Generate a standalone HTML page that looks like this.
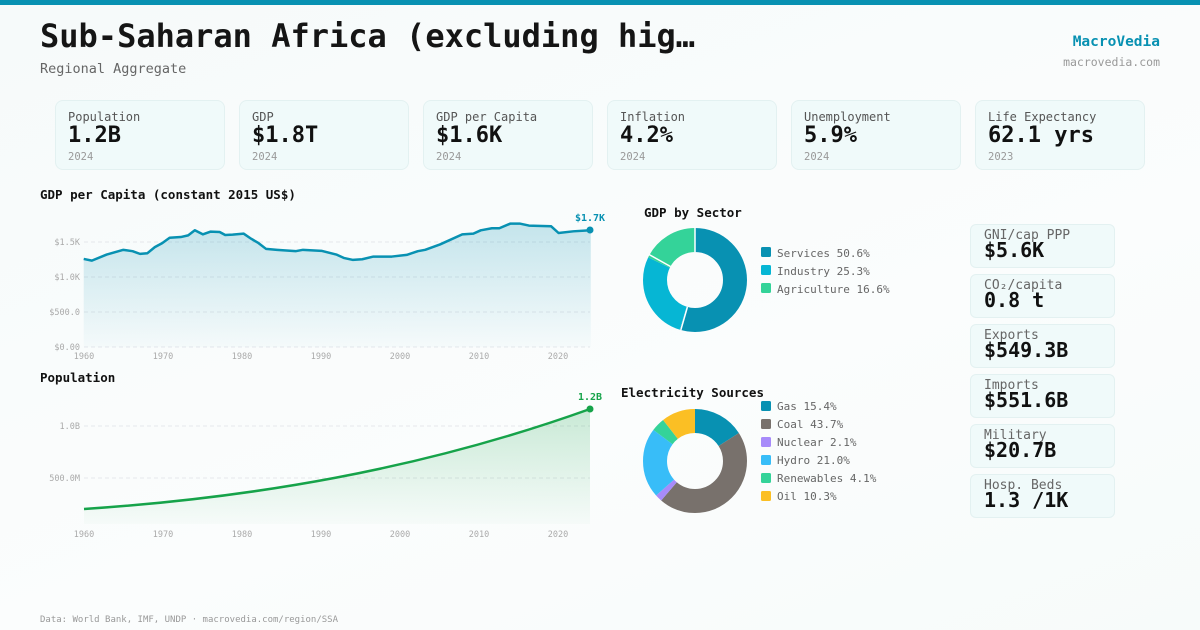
<!DOCTYPE html>
<html><head><meta charset="utf-8"><style>
*{margin:0;padding:0;box-sizing:border-box}
body{width:1200px;height:630px;overflow:hidden;background:linear-gradient(160deg,#f6fafa 0%,#fbfdfd 60%,#f7fbfa 100%);font-family:"DejaVu Sans Mono","Liberation Mono",monospace;position:relative;color:#111}
.top{position:absolute;left:0;top:0;width:1200px;height:5px;background:#0891b2}
.t{position:absolute;white-space:nowrap}
.card{position:absolute;top:100px;width:170px;height:70px;background:#f0fafa;border:1px solid #e3f1f1;border-radius:8px}
.card .l{position:absolute;left:12px;top:9px;font-size:12px;color:#555}
.card .v{position:absolute;left:12px;top:22px;font-size:22px;font-weight:bold;color:#111}
.card .y{position:absolute;left:12px;top:50px;font-size:10.5px;color:#999}
.sc{position:absolute;left:970px;width:145px;height:44px;background:#f0fafa;border:1px solid #e3f1f1;border-radius:6px}
.sc .l{position:absolute;left:13px;top:3px;font-size:13px;color:#666}
.sc .v{position:absolute;left:13px;top:13px;font-size:20px;font-weight:bold;color:#111}
svg text{font-family:"DejaVu Sans Mono","Liberation Mono",monospace}
</style></head><body>
<div class="top"></div>
<div class="t" style="left:40px;top:17px;font-size:32px;font-weight:bold;color:#151515">Sub-Saharan Africa (excluding hig…</div>
<div class="t" style="left:40px;top:61px;font-size:13.5px;color:#666">Regional Aggregate</div>
<div class="t" style="right:40px;top:34px;font-size:14.5px;font-weight:bold;color:#0891b2">MacroVedia</div>
<div class="t" style="right:40px;top:55px;font-size:11.5px;color:#999">macrovedia.com</div>

<div class="card" style="left:55px"><div class="l">Population</div><div class="v">1.2B</div><div class="y">2024</div></div>
<div class="card" style="left:239px"><div class="l">GDP</div><div class="v">$1.8T</div><div class="y">2024</div></div>
<div class="card" style="left:423px"><div class="l">GDP per Capita</div><div class="v">$1.6K</div><div class="y">2024</div></div>
<div class="card" style="left:607px"><div class="l">Inflation</div><div class="v">4.2%</div><div class="y">2024</div></div>
<div class="card" style="left:791px"><div class="l">Unemployment</div><div class="v">5.9%</div><div class="y">2024</div></div>
<div class="card" style="left:975px"><div class="l">Life Expectancy</div><div class="v">62.1 yrs</div><div class="y">2023</div></div>

<div class="sc" style="top:224px"><div class="l">GNI/cap PPP</div><div class="v">$5.6K</div></div>
<div class="sc" style="top:274px"><div class="l">CO₂/capita</div><div class="v">0.8 t</div></div>
<div class="sc" style="top:324px"><div class="l">Exports</div><div class="v">$549.3B</div></div>
<div class="sc" style="top:374px"><div class="l">Imports</div><div class="v">$551.6B</div></div>
<div class="sc" style="top:424px"><div class="l">Military</div><div class="v">$20.7B</div></div>
<div class="sc" style="top:474px"><div class="l">Hosp. Beds</div><div class="v">1.3 /1K</div></div>

<svg width="1200" height="630" style="position:absolute;left:0;top:0">
<defs>
<linearGradient id="g1" x1="0" y1="0" x2="0" y2="1"><stop offset="0" stop-color="#0891b2" stop-opacity="0.22"/><stop offset="1" stop-color="#0891b2" stop-opacity="0.02"/></linearGradient>
<linearGradient id="g2" x1="0" y1="0" x2="0" y2="1"><stop offset="0" stop-color="#16a34a" stop-opacity="0.22"/><stop offset="1" stop-color="#16a34a" stop-opacity="0.02"/></linearGradient>
</defs>
<text x="40" y="199" font-size="12.5" font-weight="bold" fill="#111">GDP per Capita (constant 2015 US$)</text>
<g stroke="#e5e7eb" stroke-dasharray="4,3" stroke-width="1">
<line x1="84" y1="242" x2="590" y2="242"/><line x1="84" y1="277" x2="590" y2="277"/><line x1="84" y1="312" x2="590" y2="312"/><line x1="84" y1="347" x2="590" y2="347"/>
<line x1="84" y1="426" x2="590" y2="426"/><line x1="84" y1="478" x2="590" y2="478"/>
</g>
<g font-size="8.5" fill="#aaa" text-anchor="end">
<text x="80" y="245">$1.5K</text><text x="80" y="280">$1.0K</text><text x="80" y="315">$500.0</text><text x="80" y="350">$0.00</text>
<text x="80" y="429">1.0B</text><text x="80" y="481">500.0M</text>
</g>
<g font-size="8.5" fill="#aaa" text-anchor="middle">
<text x="84" y="359">1960</text><text x="163" y="359">1970</text><text x="242" y="359">1980</text><text x="321" y="359">1990</text><text x="400" y="359">2000</text><text x="479" y="359">2010</text><text x="558" y="359">2020</text>
<text x="84" y="537">1960</text><text x="163" y="537">1970</text><text x="242" y="537">1980</text><text x="321" y="537">1990</text><text x="400" y="537">2000</text><text x="479" y="537">2010</text><text x="558" y="537">2020</text>
</g>
<g transform="translate(40,200) scale(0.3704,0.3367)">
<path d="M118,175 L140,180 L180,162 L225,148 L250,152 L270,160 L290,158 L310,140 L330,128 L350,112 L380,110 L400,105 L418,90 L440,102 L460,94 L485,95 L500,104 L520,103 L550,100 L570,115 L590,128 L610,145 L640,148 L690,152 L710,148 L760,151 L800,162 L820,172 L845,178 L870,176 L900,168 L950,168 L990,163 L1020,152 L1040,148 L1080,132 L1140,102 L1170,100 L1190,90 L1220,84 L1240,84 L1270,70 L1295,70 L1320,76 L1380,78 L1400,98 L1440,93 L1487,90 L1487,437 L118,437 Z" fill="url(#g1)"/>
<path d="M118,175 L140,180 L180,162 L225,148 L250,152 L270,160 L290,158 L310,140 L330,128 L350,112 L380,110 L400,105 L418,90 L440,102 L460,94 L485,95 L500,104 L520,103 L550,100 L570,115 L590,128 L610,145 L640,148 L690,152 L710,148 L760,151 L800,162 L820,172 L845,178 L870,176 L900,168 L950,168 L990,163 L1020,152 L1040,148 L1080,132 L1140,102 L1170,100 L1190,90 L1220,84 L1240,84 L1270,70 L1295,70 L1320,76 L1380,78 L1400,98 L1440,93 L1487,90" fill="none" stroke="#0891b2" stroke-width="2.5" vector-effect="non-scaling-stroke" stroke-linejoin="round"/>
</g>
<circle cx="590" cy="230" r="3.5" fill="#0891b2"/>
<text x="590" y="221" font-size="10" font-weight="bold" fill="#0891b2" text-anchor="middle">$1.7K</text>

<text x="40" y="382" font-size="12.5" font-weight="bold" fill="#111">Population</text>
<path d="M84,509 C250,498 420,470 590,409 L590,524 L84,524 Z" fill="url(#g2)"/>
<path d="M84,509 C250,498 420,470 590,409" fill="none" stroke="#16a34a" stroke-width="2.5"/>
<circle cx="590" cy="409" r="3.5" fill="#16a34a"/>
<text x="590" y="400" font-size="10" font-weight="bold" fill="#16a34a" text-anchor="middle">1.2B</text>

<text x="644" y="217" font-size="12.5" font-weight="bold" fill="#111">GDP by Sector</text>
<g transform="translate(695,280) rotate(-90)" fill="none" stroke-width="24">
<circle r="40" stroke="#0891b2" stroke-dasharray="137.48 251.33" stroke-dashoffset="0"/>
<circle r="40" stroke="#06b6d4" stroke-dasharray="68.74 251.33" stroke-dashoffset="-137.48"/>
<circle r="40" stroke="#34d399" stroke-dasharray="45.11 251.33" stroke-dashoffset="-206.22"/>
</g>
<g transform="translate(695,280)" stroke="#fff" stroke-width="1.5">
<line x1="0" y1="-28" x2="0" y2="-53"/><line x1="-7.6" y1="27" x2="-14.2" y2="50"/><line x1="-24.5" y1="-13.5" x2="-46" y2="-25.5"/>
</g>
<g font-size="11" fill="#666">
<rect x="761" y="247" width="10" height="10" rx="1.5" fill="#0891b2"/><text x="777" y="257">Services 50.6%</text>
<rect x="761" y="265" width="10" height="10" rx="1.5" fill="#06b6d4"/><text x="777" y="275">Industry 25.3%</text>
<rect x="761" y="283" width="10" height="10" rx="1.5" fill="#34d399"/><text x="777" y="293">Agriculture 16.6%</text>
</g>

<text x="621" y="397" font-size="12.5" font-weight="bold" fill="#111">Electricity Sources</text>
<g transform="translate(695,461) rotate(-90)" fill="none" stroke-width="24">
<circle r="40" stroke="#0891b2" stroke-dasharray="40.07 251.33" stroke-dashoffset="0"/>
<circle r="40" stroke="#78716c" stroke-dasharray="113.69 251.33" stroke-dashoffset="-40.07"/>
<circle r="40" stroke="#a78bfa" stroke-dasharray="5.46 251.33" stroke-dashoffset="-153.76"/>
<circle r="40" stroke="#38bdf8" stroke-dasharray="54.64 251.33" stroke-dashoffset="-159.22"/>
<circle r="40" stroke="#34d399" stroke-dasharray="10.67 251.33" stroke-dashoffset="-213.86"/>
<circle r="40" stroke="#fbbf24" stroke-dasharray="26.80 251.33" stroke-dashoffset="-224.53"/>
</g>
<g font-size="11" fill="#666">
<rect x="761" y="401" width="10" height="10" rx="1.5" fill="#0891b2"/><text x="777" y="410">Gas 15.4%</text>
<rect x="761" y="419" width="10" height="10" rx="1.5" fill="#78716c"/><text x="777" y="428">Coal 43.7%</text>
<rect x="761" y="437" width="10" height="10" rx="1.5" fill="#a78bfa"/><text x="777" y="446">Nuclear 2.1%</text>
<rect x="761" y="455" width="10" height="10" rx="1.5" fill="#38bdf8"/><text x="777" y="464">Hydro 21.0%</text>
<rect x="761" y="473" width="10" height="10" rx="1.5" fill="#34d399"/><text x="777" y="482">Renewables 4.1%</text>
<rect x="761" y="491" width="10" height="10" rx="1.5" fill="#fbbf24"/><text x="777" y="500">Oil 10.3%</text>
</g>
<text x="40" y="622" font-size="9" fill="#999">Data: World Bank, IMF, UNDP · macrovedia.com/region/SSA</text>
</svg>
</body></html>
